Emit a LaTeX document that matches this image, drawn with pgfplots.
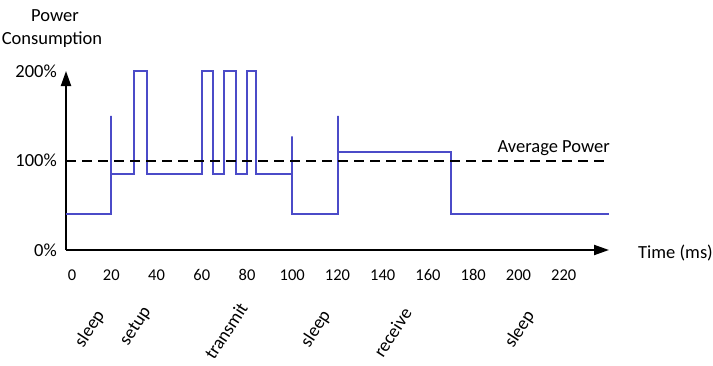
\documentclass[border=0pt]{standalone}
\usepackage{pgfplots}
\pgfplotsset{compat=1.18}
\usepackage{fontspec}
\setmainfont{Carlito}
\usetikzlibrary{arrows.meta}
\definecolor{pline}{RGB}{75,75,200}
\begin{document}
\fontsize{18.5bp}{22bp}\selectfont
\begin{tikzpicture}
\useasboundingbox (0,0) rectangle (713bp,-366bp);
\begin{axis}[
  at={(66bp,-250bp)}, anchor=south west,
  scale only axis, width=543bp, height=179bp,
  xmin=0, xmax=240, ymin=0, ymax=200,
  axis lines*=left,
  axis line style={line width=2bp, -{Triangle[length=15bp,width=10bp]}},
  xtick={0,20,...,220},
  xticklabels={\hspace{12bp}0,20,40,60,80,100,120,140,160,180,200,220},
  ytick={0,100,200},
  yticklabels={0\%,100\%,200\%},
  major tick length=0pt,
  xticklabel style={anchor=center, yshift=-25bp, font=\fontsize{16.5bp}{20bp}\selectfont},
  yticklabel style={anchor=east, inner sep=0pt, xshift=-9bp},
  /pgf/number format/assume math mode=true,
  clip=false,
]
\addplot[pline, line width=2bp, mark=none] coordinates {
 (0,40) (20,40) (20,150) (20,85) (30,85) (30,200) (36,200) (36,85)
 (60,85) (60,200) (65,200) (65,85) (70,85) (70,200) (75,200) (75,85)
 (80,85) (80,200) (84,200) (84,85) (100,85) (100,127) (100,40)
 (120,40) (120,150) (120,110) (170,110) (170,40) (240,40)
};
\addplot[black, line width=2bp, dash pattern=on 10bp off 6bp, mark=none] coordinates {(0,100) (240,100)};
\end{axis}
\node[anchor=base] at (55bp,-21bp) {Power};
\node[anchor=base] at (52bp,-44bp) {Consumption};
\node[anchor=base east, inner sep=0pt] at (610bp,-152bp) {Average Power};
\node[anchor=base west, inner sep=0pt] at (638bp,-258bp) {Time (ms)};
\node[rotate=57, inner sep=0pt] at (90bp,-329bp) {sleep};
\node[rotate=57, inner sep=0pt] at (136bp,-326.5bp) {setup};
\node[rotate=57, inner sep=0pt] at (226bp,-331bp) {transmit};
\node[rotate=57, inner sep=0pt] at (316bp,-329bp) {sleep};
\node[rotate=57, inner sep=0pt] at (392.5bp,-332.5bp) {receive};
\node[rotate=57, inner sep=0pt] at (520bp,-329.5bp) {sleep};
\end{tikzpicture}
\end{document}
